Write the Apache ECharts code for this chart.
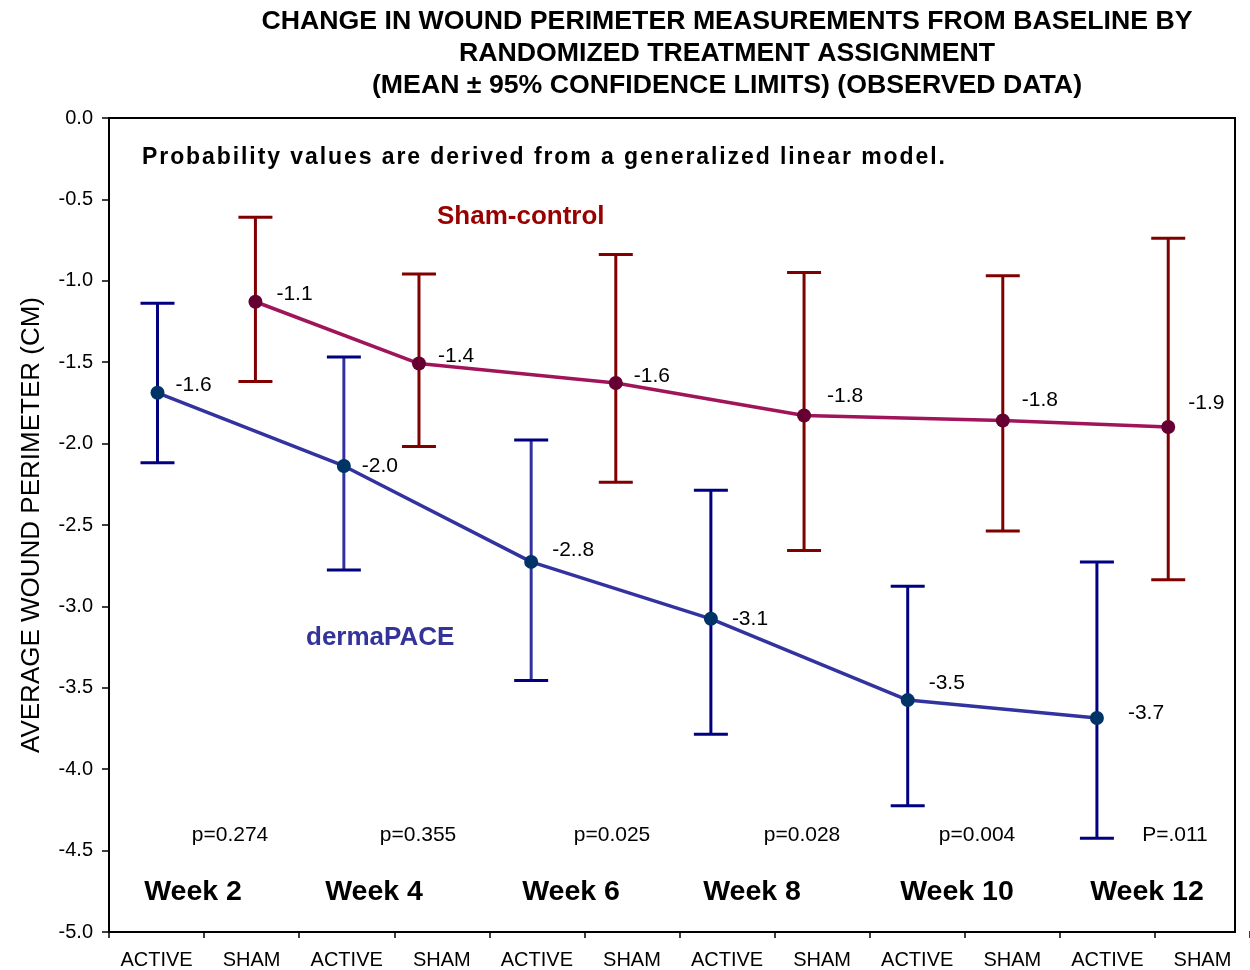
<!DOCTYPE html>
<html>
<head>
<meta charset="utf-8">
<script src="https://cdn.jsdelivr.net/npm/echarts@6/dist/echarts.min.js"></script>
<style>
  html, body { margin: 0; padding: 0; background: #fff; }
  #chart { width: 1250px; height: 970px; }
</style>
</head>
<body>
<div id="chart"></div>
<script>
// x axis categories (alternating treatment arms)
const xCats = ['ACTIVE', 'SHAM', 'ACTIVE', 'SHAM', 'ACTIVE', 'SHAM', 'ACTIVE', 'SHAM', 'ACTIVE', 'SHAM', 'ACTIVE', 'SHAM']
const weeks = ['Week 2', 'Week 4', 'Week 6', 'Week 8', 'Week 10', 'Week 12']
const pValues = ['p=0.274', 'p=0.355', 'p=0.025', 'p=0.028', 'p=0.004', 'P=.011']

// dermaPACE (active) - x in category units, mean and 95% CL
const dermaX = [0.51, 2.47, 4.44, 6.33, 8.40, 10.39]
const dermaMean = [-1.69, -2.14, -2.73, -3.08, -3.58, -3.69]
const dermaLow = [-2.12, -2.78, -3.46, -3.79, -4.23, -4.43]
const dermaHigh = [-1.14, -1.47, -1.98, -2.29, -2.88, -2.73]
const dermaLabels = ['-1.6', '-2.0', '-2..8', '-3.1', '-3.5', '-3.7']

// Sham-control
const shamX = [1.54, 3.26, 5.33, 7.31, 9.40, 11.14]
const shamMean = [-1.13, -1.51, -1.63, -1.83, -1.86, -1.90]
const shamLow = [-1.62, -2.02, -2.24, -2.66, -2.54, -2.84]
const shamHigh = [-0.61, -0.96, -0.84, -0.95, -0.97, -0.74]
const shamLabels = ['-1.1', '-1.4', '-1.6', '-1.8', '-1.8', '-1.9']

// label nudges, px
const dermaOffsets = [[0, -8], [0, 0], [3, -12], [3, 0], [3, -17], [13, -5]]
const shamOffsets = [[3, -8], [1, -7], [0, -7], [5, -19], [1, -20], [2, -24]]
const weekPos = [193, 374, 571, 752, 957, 1147]
const pPos = [230, 418, 612, 802, 977, 1175]

const font = 'Liberation Sans, Arial, sans-serif'
const note = 'Probability values are derived from a generalized linear model.'

function errBar(stemColors, capColor) {
  return function (params, api) {
    const x = api.value(0)
    const hi = api.coord([x, api.value(2)])
    const lo = api.coord([x, api.value(1)])
    const hw = 17
    const stem = stemColors[params.dataIndex]
    return {
      type: 'group',
      children: [
        { type: 'line', shape: { x1: hi[0], y1: hi[1], x2: lo[0], y2: lo[1] }, style: { stroke: stem, lineWidth: 3 } },
        { type: 'line', shape: { x1: hi[0] - hw, y1: hi[1], x2: hi[0] + hw, y2: hi[1] }, style: { stroke: capColor, lineWidth: 3 } },
        { type: 'line', shape: { x1: lo[0] - hw, y1: lo[1], x2: lo[0] + hw, y2: lo[1] }, style: { stroke: capColor, lineWidth: 3 } }
      ]
    }
  }
}

function lineData(xs, ys, offs) {
  return xs.map((x, i) => ({ value: [x, ys[i]], label: { offset: offs[i] } }))
}

const chart = echarts.init(document.getElementById('chart'))
chart.setOption({
  animation: false,
  textStyle: { fontFamily: font },
  grid: [
    { left: 109, top: 118, width: 1126, height: 814, show: true, borderColor: '#000', borderWidth: 2 },
    { left: 109, top: 118, width: 1147, height: 814 }
  ],
  xAxis: [
    { gridIndex: 0, type: 'value', min: 0, max: 1, show: false },
    {
      gridIndex: 1, type: 'category', data: xCats, boundaryGap: true, position: 'bottom',
      axisLine: { show: false, onZero: false },
      axisTick: { show: true, length: 7, lineStyle: { color: '#000', width: 1.5 } },
      axisLabel: { color: '#000', fontSize: 20, margin: 19, fontFamily: font, interval: 0 }
    },
    { gridIndex: 1, type: 'value', min: 0, max: 12, show: false }
  ],
  yAxis: [
    {
      gridIndex: 0, type: 'value', min: -5, max: 0, interval: 0.5,
      name: 'AVERAGE WOUND PERIMETER (CM)', nameLocation: 'middle', nameGap: 64,
      nameTextStyle: { fontSize: 26, color: '#000', fontFamily: font },
      axisLine: { show: true, lineStyle: { color: '#000', width: 2 } },
      axisTick: { show: true, length: 7, lineStyle: { color: '#000', width: 1.5 } },
      splitLine: { show: false },
      axisLabel: { color: '#000', fontSize: 20, margin: 16, fontFamily: font, formatter: v => v.toFixed(1) }
    },
    { gridIndex: 1, type: 'value', min: -5, max: 0, show: false }
  ],
  series: [
    {
      type: 'custom', xAxisIndex: 2, yAxisIndex: 1,
      renderItem: errBar(['#000080', '#3333a0', '#3333a0', '#000080', '#000080', '#000080'], '#000080'),
      data: dermaX.map((x, i) => [x, dermaLow[i], dermaHigh[i]]), z: 2
    },
    {
      type: 'custom', xAxisIndex: 2, yAxisIndex: 1,
      renderItem: errBar(['#800000', '#800000', '#800000', '#800000', '#800000', '#800000'], '#800000'),
      data: shamX.map((x, i) => [x, shamLow[i], shamHigh[i]]), z: 2
    },
    {
      name: 'dermaPACE', type: 'line', xAxisIndex: 2, yAxisIndex: 1, z: 3,
      data: lineData(dermaX, dermaMean, dermaOffsets),
      symbol: 'circle', symbolSize: 14,
      lineStyle: { color: '#3333a0', width: 3.5 },
      itemStyle: { color: '#003366' },
      label: { show: true, position: 'right', distance: 11, color: '#000', fontSize: 21, fontFamily: font,
        formatter: p => dermaLabels[p.dataIndex] }
    },
    {
      name: 'Sham-control', type: 'line', xAxisIndex: 2, yAxisIndex: 1, z: 3,
      data: lineData(shamX, shamMean, shamOffsets),
      symbol: 'circle', symbolSize: 14,
      lineStyle: { color: '#a0145a', width: 3.5 },
      itemStyle: { color: '#660033' },
      label: { show: true, position: 'right', distance: 11, color: '#000', fontSize: 21, fontFamily: font,
        formatter: p => shamLabels[p.dataIndex] }
    }
  ],
  graphic: [
    {
      type: 'text', x: 727, y: 6,
      style: {
        text: 'CHANGE IN WOUND PERIMETER MEASUREMENTS FROM BASELINE BY\nRANDOMIZED TREATMENT ASSIGNMENT\n(MEAN \u00b1 95% CONFIDENCE LIMITS) (OBSERVED DATA)',
        align: 'center', lineHeight: 32, fontSize: 26.7, fontWeight: 'bold', fill: '#000', fontFamily: font
      }
    },
    {
      // the note is letter-spaced in the original
      type: 'text', x: 142, y: 158,
      style: { text: note.split('').join('\u200A'), align: 'left', verticalAlign: 'middle',
        fontSize: 23, fontWeight: 'bold', fill: '#000', fontFamily: font }
    },
    {
      type: 'text', x: 437, y: 217,
      style: { text: 'Sham-control', verticalAlign: 'middle', fontSize: 26, fontWeight: 'bold', fill: '#990000', fontFamily: font }
    },
    {
      type: 'text', x: 306, y: 638,
      style: { text: 'dermaPACE', verticalAlign: 'middle', fontSize: 26, fontWeight: 'bold', fill: '#333399', fontFamily: font }
    }
  ]
    .concat(weeks.map((w, i) => ({
      type: 'text', x: weekPos[i], y: 892,
      style: { text: w, align: 'center', verticalAlign: 'middle', fontSize: 28.5, fontWeight: 'bold', fill: '#000', fontFamily: font }
    })))
    .concat(pValues.map((p, i) => ({
      type: 'text', x: pPos[i], y: 835,
      style: { text: p, align: 'center', verticalAlign: 'middle', fontSize: 21, fill: '#000', fontFamily: font }
    })))
})
</script>
</body>
</html>
